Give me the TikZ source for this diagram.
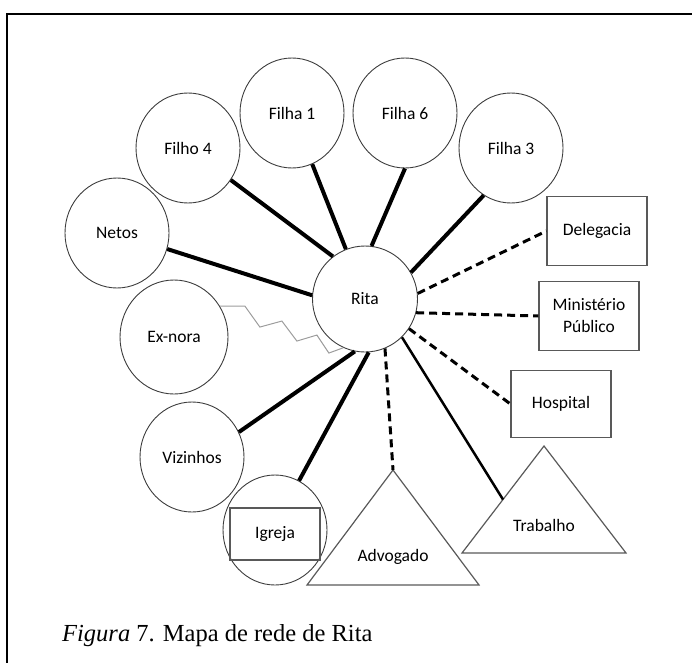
\documentclass[tikz,border=0pt]{standalone}
\usepackage{fontspec}
\setmainfont{Carlito}
\newfontfamily\capfont{Liberation Serif}
\usetikzlibrary{shapes.geometric, calc}
\definecolor{ringgray}{HTML}{3C3C3C}
\definecolor{boxgray}{HTML}{595959}
\definecolor{zigzaggray}{HTML}{9C9C9C}

\begin{document}
\begin{tikzpicture}[
    x=1pt, y=-1pt,
    person/.style={ellipse, draw=ringgray, line width=0.9pt, inner sep=0pt, minimum width=104pt, minimum height=110pt, font=\fontsize{17.5}{21}\selectfont},
    place/.style={rectangle, draw=boxgray, line width=1.2pt, inner sep=0pt, minimum width=100pt, minimum height=69pt, align=center, font=\fontsize{17.5}{22}\selectfont},
    lbl/.style={font=\fontsize{17.5}{21}\selectfont, inner sep=0pt},
    triline/.style={draw=boxgray, line width=1.2pt, line join=miter},
    strong/.style={line width=4pt},
    weak/.style={line width=3pt, dash pattern=on 8pt off 5pt},
    conflict/.style={draw=zigzaggray, line width=1pt},
]
\useasboundingbox (0,0) rectangle (692,663);

% Frame
\draw[line width=1.8pt] (692,14) -- (7,14) -- (7,663);

% Centre
\node[person, minimum width=105pt, minimum height=106pt] (rita) at (365,299) {Rita};

% Family and neighbours
\node[person] (netos) at (117,233) {Netos};
\node[person] (filho4) at (188,148) {Filho 4};
\node[person] (filha1) at (292,113) {Filha 1};
\node[person] (filha6) at (405,113) {Filha 6};
\node[person] (filha3) at (511,148) {Filha 3};
\node[person, minimum width=108pt, minimum height=114pt] (exnora) at (174,337) {Ex-nora};
\node[person] (vizinhos) at (192,457) {Vizinhos};
\node[person] (igreja) at (275,530) {};
\node[place, minimum width=90pt, minimum height=52pt] (igrejabox) at (275,534) {Igreja};

% Institutions
\node[place] (delegacia) at (597,231) {Delegacia};
\node[place] (mp) at (589,316) {Minist\'erio\\P\'ublico};
\node[place, minimum height=67pt] (hospital) at (561,404) {Hospital};

% Triangles
\coordinate (advtop) at (393,470);
\coordinate (advleft) at (307,585);
\coordinate (advright) at (479,585);
\draw[triline] (advtop) -- (advleft) -- (advright) -- cycle;
\node[lbl] (advogado) at (393,557) {Advogado};

\coordinate (trabtop) at (544,446);
\coordinate (trableft) at (462,553);
\coordinate (trabright) at (626,553);
\draw[triline] (trabtop) -- (trableft) -- (trabright) -- cycle;
\node[lbl] (trabalho) at (544,525) {Trabalho};

% Strong ties
\draw[strong] (netos) -- (rita.176);
\draw[strong] (filho4) -- (rita.127);
\draw[strong] (filha1) -- (rita.111);
\draw[strong] (filha6.south) -- (rita.83);
\draw[strong] (filha3.240) -- (rita.30);
\draw[strong] (vizinhos.28) -- (rita.259);
\draw[strong] (igreja.64) -- (rita.274);
\draw[line width=2.5pt] (rita.314) -- ($(trabtop)!0.5!(trableft)$);

% Weak ties
\draw[weak] (rita.6) -- (delegacia.west);
\draw[weak] (rita.345) -- (mp.west);
\draw[weak] (rita.326) -- (hospital.west);
\draw[weak] (rita.292) -- (advtop);

% Conflict
\draw[conflict] (exnora.34) -- ++(25,0) -- ++(15,21) -- ++(22,-6) -- ++(15,20)
    -- ++(20,-6) -- ++(12,18) -- (rita.246);

% Caption
\node[anchor=base west, inner sep=0pt, font=\capfont\fontsize{24.5}{29}\selectfont] (caption) at (62,641) {\textit{Figura} 7. Mapa de rede de Rita};

\end{tikzpicture}
\end{document}
